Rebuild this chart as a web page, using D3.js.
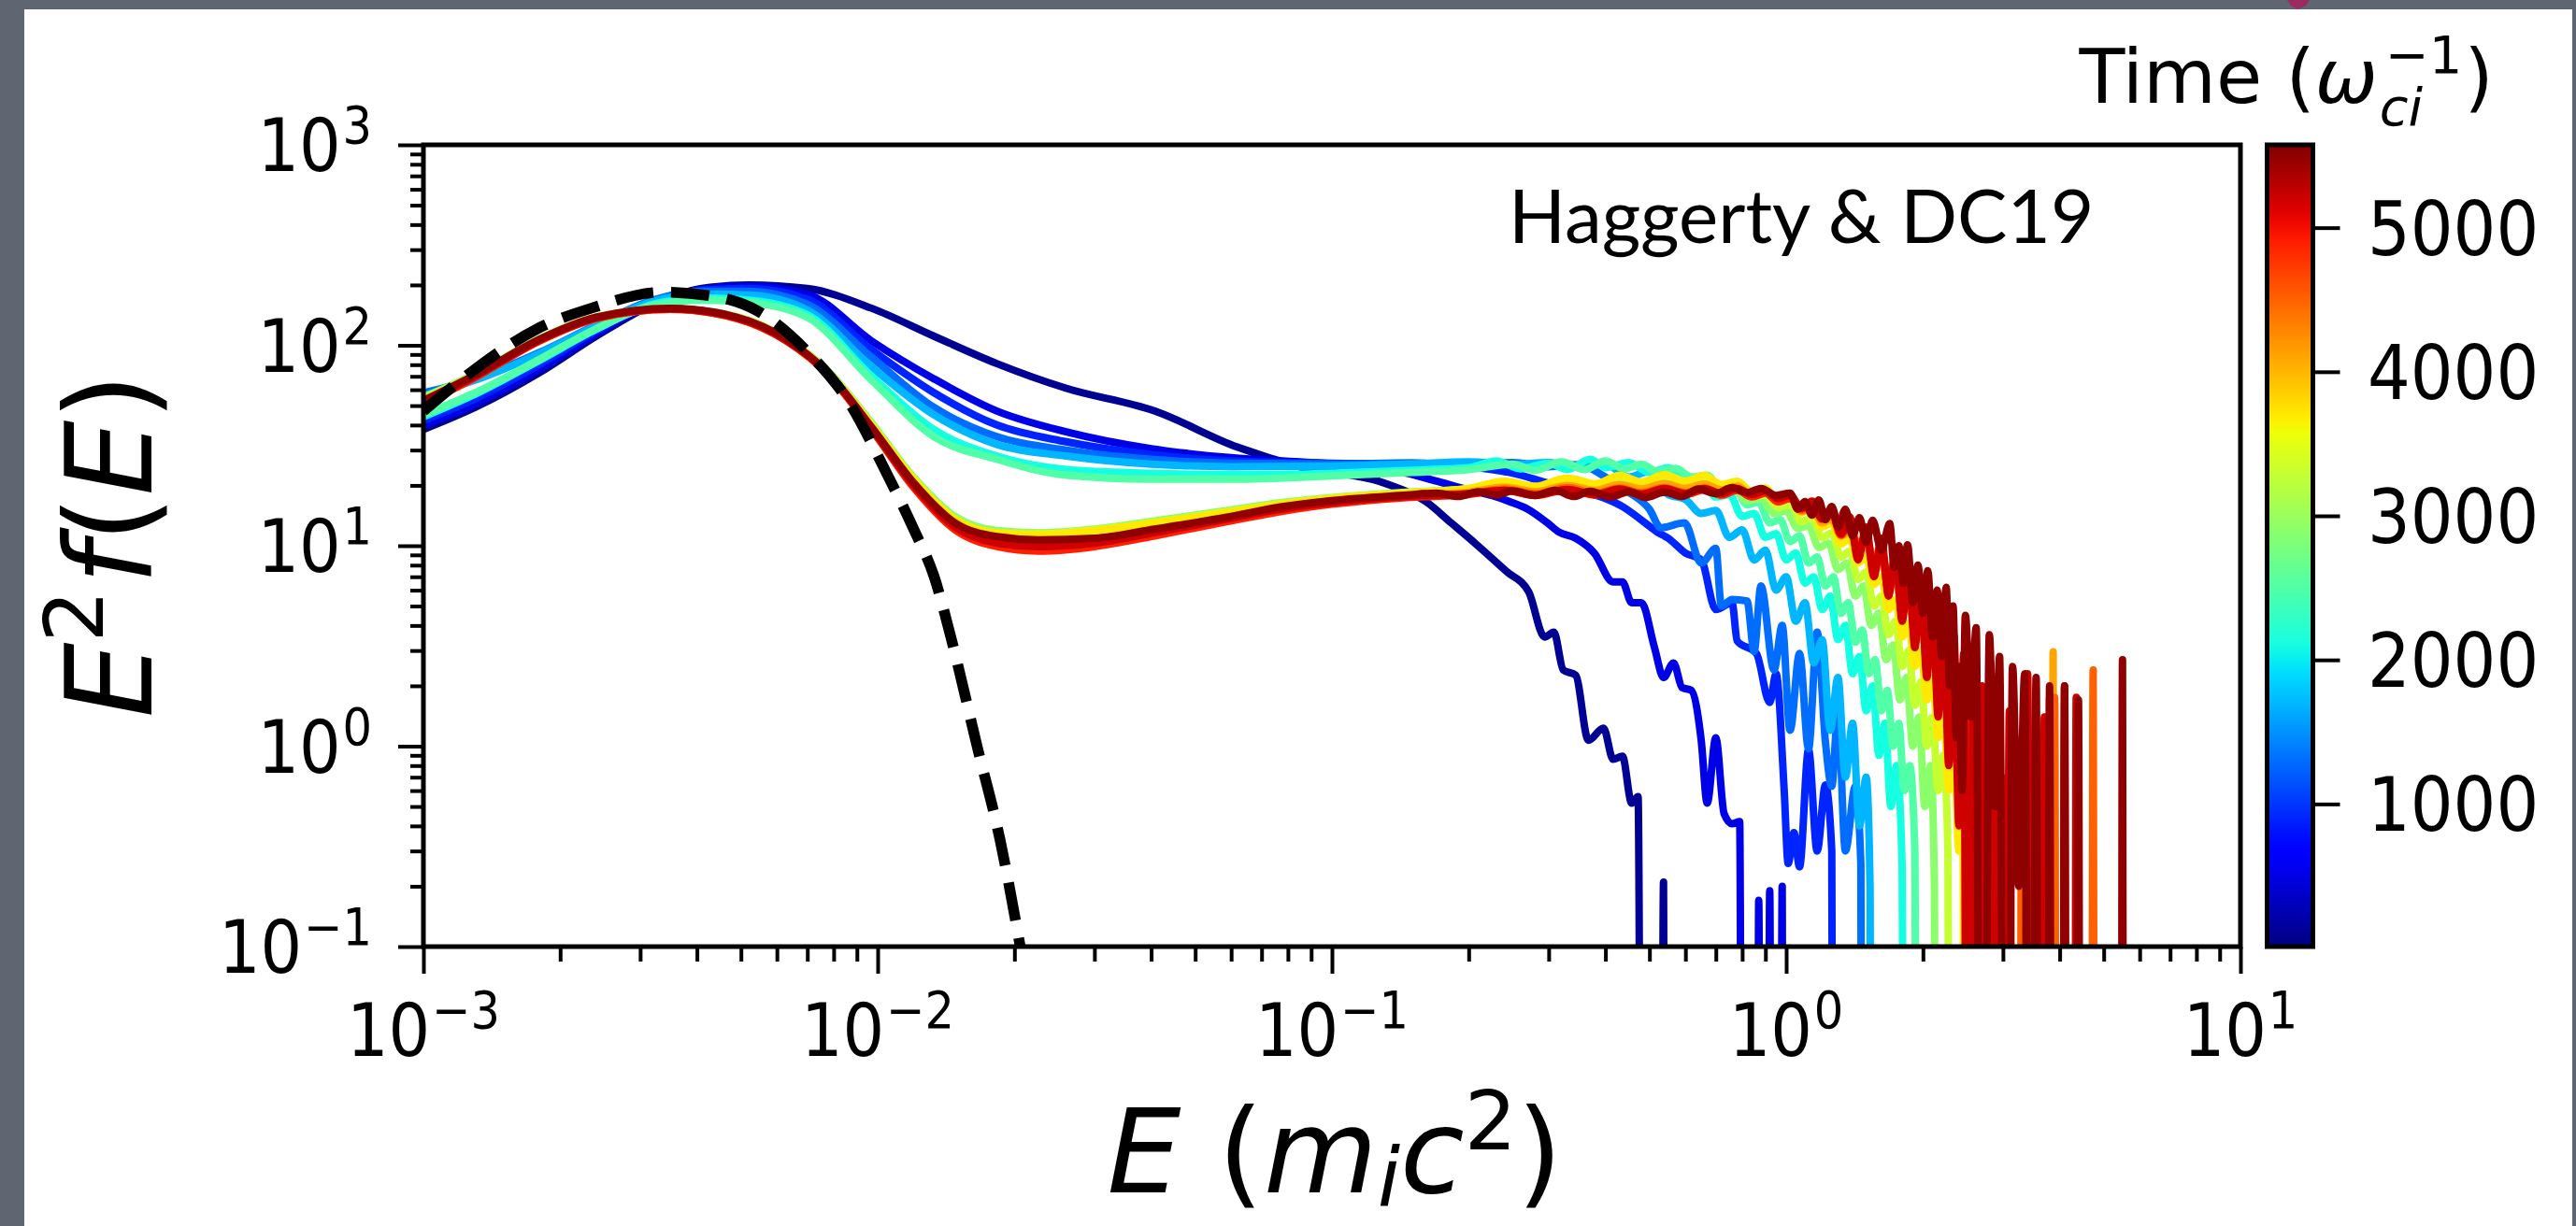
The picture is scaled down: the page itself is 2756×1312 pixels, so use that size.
<!DOCTYPE html>
<html>
<head>
<meta charset="utf-8">
<script src="https://cdn.jsdelivr.net/npm/d3@7"></script>
<style>
  html, body { margin: 0; padding: 0; background: #606572; }
  svg { display: block; }
</style>
</head>
<body>
<div id="chart"></div>
<script>
// -------------------------------------------------------------------
// E^2 f(E) spectra at successive times (Haggerty & DC19),
// coloured by time with a jet colormap, plus the initial Maxwellian
// -------------------------------------------------------------------

// Snapshot times (1/omega_ci), one per curve
const times = [100, 500, 900, 1300, 1700, 2100, 2500, 2900, 3300, 3700, 4100, 4500, 4900, 5200, 5500];

// Colorbar range and ticks
const cbarMin = 10, cbarMax = 5575;
const cbarTicks = [1000, 2000, 3000, 4000, 5000];

// Axis ticks (major) and their exponent labels
const xMajor = [1e-3, 1e-2, 1e-1, 1, 10];
const xExp = ["\u22123", "\u22122", "\u22121", "0", "1"];
const yMajor = [0.1, 1, 10, 100, 1000];
const yExp = ["\u22121", "0", "1", "2", "3"];

// Initial Maxwellian (black dashed), [E, E^2 f(E)]
const maxwellian = [[0.001,47],[0.00129,75],[0.00177,120],[0.00234,153],[0.00336,184],[0.00432,176],
  [0.00545,148],[0.00703,92],[0.00871,50.7],[0.0103,24.7],[0.012,12.1],[0.0133,7.06],[0.0145,3.48],
  [0.01655,1.0],[0.0186,0.34],[0.0206,0.1]];

// Spectra, [E, E^2 f(E)]; 0 = empty bin
const spec_t100 = [[0.001,38],[0.0013,49],[0.0018,73],[0.0024,111],[0.0032,160],[0.0041,192],[0.0052,200],
  [0.007,192],[0.0097,153],[0.0133,111],[0.0183,81],[0.026,61],[0.0407,47],[0.062,31],[0.0855,24.7],
  [0.13,20.6],[0.161,16.6],[0.183,13],[0.2075,10.2],[0.243,7.4],[0.271,5.9],[0.294,3.5],[0.308,3.7],
  [0.323,2.4],[0.344,2.26],[0.367,1.07],[0.396,1.23],[0.416,0.86],[0.436,0.89],[0.457,0.52],[0.472,0.56],
  [0.485,0],[0.527,0],[0.537,0.21],[0.547,0]];

const spec_t500 = [[0.001,40],[0.0013,51],[0.0018,76],[0.0024,114],[0.0032,163],[0.0041,190],[0.0052,197],
  [0.007,180],[0.0097,105],[0.0133,68],[0.0183,47],[0.026,37],[0.04,30.5],[0.06,27.5],[0.085,26.2],
  [0.11,25.2],[0.14,23.5],[0.17,21],[0.2,19],[0.225,17.8],[0.246,16.6],[0.27,15.2],[0.298,13],[0.316,11.7],
  [0.344,10.9],[0.378,9.2],[0.416,6.6],[0.436,6.6],[0.457,5.2],[0.48,5.2],[0.513,3.1],[0.537,2.2],
  [0.565,2.6],[0.59,1.96],[0.618,1.9],[0.65,1.07],[0.67,0.52],[0.70,1.1],[0.73,0.46],[0.76,0.41],
  [0.79,0.42],[0.805,0],[0.86,0],[0.87,0.17],[0.885,0],[0.905,0],[0.92,0.19],[0.935,0],[0.965,0],
  [0.98,0.2],[0.995,0]];

const spec_t900 = [[0.001,42],[0.0013,54],[0.0018,80],[0.0024,118],[0.0032,166],[0.0041,188],[0.0052,192],
  [0.007,170],[0.0097,95],[0.0133,58],[0.0183,40],[0.026,33],[0.04,28.5],[0.06,26.5],[0.1,25.8],
  [0.15,25.5],[0.2,24.8],[0.25,23],[0.3,20.5],[0.35,18.8],[0.4,17.2],[0.438,15.6],[0.489,13],[0.52,11.7],
  [0.55,10.9],[0.6,9.2],[0.65,8.5],[0.7,4.8],[0.76,5.2],[0.78,3.35],[0.86,2.9],[0.92,1.65],[0.95,2.3],
  [0.99,0.6],[1.01,0.26],[1.04,0.37],[1.07,0.25],[1.12,0.96],[1.17,0.3],[1.22,0.64],[1.26,0.3],[1.28,0]];

const spec_t1300 = [[0.001,58],[0.0013,68],[0.0018,92],[0.0024,126],[0.0032,168],[0.0041,186],[0.0052,186],
  [0.007,160],[0.0097,87],[0.0133,49],[0.0183,35],[0.026,30],[0.04,27],[0.06,25.8],[0.1,25.6],[0.15,25.9],
  [0.2,25.2],[0.25,26],[0.3,24.8],[0.35,25.4],[0.4,22],[0.45,18.5],[0.5,15.2],[0.53,12.3],[0.597,13],
  [0.65,8.2],[0.70,9.7],[0.72,5.0],[0.76,5.4],[0.82,5.3],[0.85,2.97],[0.88,6.3],[0.94,2.4],[0.98,4.0],
  [1.02,1.2],[1.07,2.9],[1.12,0.97],[1.17,3.7],[1.22,1.05],[1.26,0.63],[1.3,1.5],[1.35,0.3],[1.42,0.63],
  [1.46,0.26],[1.48,0]];

const spec_t1700 = [[0.001,56],[0.0013,67],[0.0018,91],[0.0024,125],[0.0032,166],[0.0041,180],[0.0052,178],
  [0.007,150],[0.0097,78],[0.0133,45],[0.0183,32],[0.026,28],[0.04,25.5],[0.06,24.8],[0.1,25],[0.15,25.6],
  [0.2,26.2],[0.25,25.4],[0.3,26],[0.35,24.6],[0.4,25.5],[0.45,22],[0.5,23.5],[0.55,18],[0.6,17],
  [0.65,14.5],[0.7,15],[0.75,11],[0.8,12],[0.85,8.5],[0.9,9.5],[0.95,6],[1.0,7],[1.05,4.2],[1.1,5.2],
  [1.15,2.6],[1.2,3.4],[1.25,1.2],[1.3,2.2],[1.35,0.7],[1.4,1.3],[1.45,0.4],[1.5,0.7],[1.53,0.2],[1.55,0]];

const spec_t2100 = [[0.001,44],[0.0013,57],[0.0018,84],[0.0024,120],[0.0032,160],[0.0041,172],[0.0052,168],
  [0.007,142],[0.0097,70],[0.0133,38],[0.0183,28],[0.026,24],[0.04,23],[0.06,22.6],[0.1,23],[0.15,23.8],
  [0.2,24.5],[0.23,26.5],[0.26,24.2],[0.3,25.8],[0.33,24],[0.37,27],[0.4,24.5],[0.45,26],[0.5,23.2],
  [0.55,24.5],[0.6,21],[0.65,21.8],[0.7,17.5],[0.75,18],[0.8,14],[0.85,14.5],[0.9,11],[0.95,11.5],
  [1.0,8.5],[1.05,9.2],[1.1,6.5],[1.15,7],[1.2,4.8],[1.25,5.6],[1.3,3.4],[1.35,4],[1.4,2.3],[1.45,2.8],
  [1.5,1.5],[1.55,2],[1.6,0.9],[1.65,1.3],[1.7,0.5],[1.75,0.8],[1.8,0.25],[1.85,0]];

const spec_t2500 = [[0.001,45],[0.0013,58],[0.0018,85],[0.0024,121],[0.0032,158],[0.0041,168],[0.0052,164],
  [0.007,138],[0.0097,67],[0.0133,35],[0.0183,27],[0.026,22.5],[0.04,21.5],[0.06,21.5],[0.1,22.3],
  [0.15,23.2],[0.2,24],[0.25,25.5],[0.28,23.8],[0.32,26.2],[0.36,24],[0.4,26.5],[0.44,24.2],[0.48,25.5],
  [0.52,23.5],[0.57,24.3],[0.62,22],[0.67,22.5],[0.72,19],[0.77,19.8],[0.82,16],[0.87,16.5],[0.92,13],
  [0.97,13.5],[1.02,10.5],[1.07,11.2],[1.12,8.2],[1.17,8.8],[1.22,6.3],[1.27,7],[1.32,4.6],[1.37,5.2],
  [1.42,3.3],[1.47,3.8],[1.52,2.3],[1.57,2.7],[1.62,1.5],[1.67,1.9],[1.72,1.0],[1.77,1.3],[1.82,0.6],
  [1.87,0.8],[1.92,0.3],[1.97,0]];

const spec_t2900 = [[0.001,55],[0.0013,72],[0.0018,108],[0.0024,138],[0.0035,152],[0.0049,139],[0.0063,108],
  [0.0078,74],[0.0097,41],[0.012,22],[0.0148,14],[0.0183,11.9],[0.0226,11.6],[0.03,12.1],[0.0407,13.3],
  [0.06,15.1],[0.077,16.4],[0.1,17.4],[0.146,18.5],[0.2,19.2],[0.24,20.4],[0.28,19.4],[0.33,21],[0.38,19.8],
  [0.43,21.3],[0.48,20],[0.53,21.5],[0.58,19.6],[0.64,20.8],[0.7,18.6],[0.76,19.4],[0.82,16.8],[0.88,17.2],
  [0.94,14.5],[1.0,14.9],[1.06,12.2],[1.12,12.6],[1.18,9.8],[1.24,10.3],[1.3,7.6],[1.36,8.2],[1.42,5.6],
  [1.48,6.3],[1.54,4],[1.6,4.6],[1.66,2.7],[1.72,3.2],[1.78,1.7],[1.84,2.2],[1.9,1.0],[1.96,1.4],
  [2.02,0.5],[2.08,0.8],[2.12,0.2],[2.15,0]];

const spec_t3300 = [[0.001,54],[0.0013,71],[0.0018,107],[0.0024,138],[0.0035,152],[0.0049,138],[0.0063,107],
  [0.0078,73],[0.0097,40],[0.012,21.5],[0.0148,13.6],[0.0183,11.6],[0.0226,11.4],[0.03,12],[0.0407,13.1],
  [0.06,14.9],[0.077,16.2],[0.1,17.3],[0.146,18.4],[0.2,19.3],[0.24,20.8],[0.28,19.5],[0.33,21.2],[0.38,20],
  [0.43,21.6],[0.48,20.3],[0.54,21.8],[0.6,20.2],[0.66,21.2],[0.72,19.2],[0.78,19.9],[0.84,17.5],[0.9,18],
  [0.96,15.5],[1.02,16],[1.08,13.2],[1.14,13.8],[1.2,11],[1.26,11.6],[1.32,8.8],[1.38,9.4],[1.44,6.8],
  [1.5,7.4],[1.56,5],[1.62,5.6],[1.68,3.6],[1.74,4.2],[1.8,2.5],[1.86,3],[1.92,1.6],[1.98,2.1],[2.04,1.0],
  [2.1,1.4],[2.16,0.6],[2.22,0.9],[2.27,0.3],[2.32,0]];

const spec_t3700 = [[0.001,53],[0.0013,71],[0.0018,107],[0.0024,138],[0.0035,152],[0.0049,138],[0.0063,107],
  [0.0078,73],[0.0097,40],[0.012,21.5],[0.0148,13.6],[0.0183,11.6],[0.0226,11.4],[0.03,11.9],[0.0407,13],
  [0.06,14.8],[0.077,16.1],[0.1,17.2],[0.146,18.3],[0.2,19.3],[0.24,21],[0.28,19.8],[0.33,21.8],[0.38,20.4],
  [0.43,22.4],[0.48,20.8],[0.54,22.6],[0.6,21],[0.66,22.4],[0.72,20.2],[0.78,21],[0.84,18.6],[0.9,19.4],
  [0.96,16.8],[1.02,17.5],[1.08,14.6],[1.14,15.3],[1.2,12.4],[1.26,13],[1.32,10.2],[1.38,10.9],[1.44,8.2],
  [1.5,8.8],[1.56,6.4],[1.62,7],[1.68,4.8],[1.74,5.4],[1.8,3.5],[1.86,4.1],[1.92,2.5],[1.98,3],[2.04,1.7],
  [2.1,2.2],[2.16,1.1],[2.22,1.5],[2.28,0.6],[2.34,1.0],[2.4,0.3],[2.45,0.5],[2.5,0]];

const spec_t4100 = [[0.001,52],[0.0013,70],[0.0018,106],[0.0024,137],[0.0035,152],[0.0049,137],[0.0063,106],
  [0.0078,72],[0.0097,39],[0.012,20.5],[0.0148,12.8],[0.0183,10.8],[0.0226,10.3],[0.03,10.8],[0.0407,12],
  [0.06,14],[0.077,15.4],[0.1,16.6],[0.146,17.8],[0.2,18.5],[0.24,19.6],[0.28,18.6],[0.33,20],[0.38,18.9],
  [0.43,20.2],[0.48,19.2],[0.54,20.4],[0.6,19.3],[0.66,20.3],[0.72,19],[0.78,19.8],[0.84,18],[0.9,18.6],
  [0.96,16.6],[1.02,17.2],[1.08,14.8],[1.14,15.4],[1.2,13],[1.26,13.6],[1.32,11.2],[1.38,11.8],[1.44,9.4],
  [1.5,10],[1.56,7.8],[1.62,8.3],[1.68,6.2],[1.74,6.8],[1.8,4.8],[1.86,5.4],[1.92,3.6],[1.98,4.2],[2.04,2.6],
  [2.1,3.1],[2.16,1.8],[2.22,2.3],[2.28,1.2],[2.34,1.6],[2.4,0.7],[2.46,1.1],[2.52,0.4],[2.58,0.7],[2.62,0],
  [2.95,0],[3.0,0.6],[3.05,0],[3.55,0],[3.6,1.2],[3.65,0],[3.82,0],[3.87,2.96],[3.92,0]];

const spec_t4500 = [[0.001,51],[0.0013,69],[0.0018,105],[0.0024,136],[0.0035,151],[0.0049,136],[0.0063,105],
  [0.0078,71],[0.0097,38],[0.012,19.8],[0.0148,12.2],[0.0183,10.1],[0.0226,9.6],[0.03,10.1],[0.0407,11.4],
  [0.06,13.5],[0.077,15],[0.1,16.3],[0.146,17.6],[0.2,18.2],[0.24,19.2],[0.28,18.2],[0.33,19.5],[0.38,18.3],
  [0.43,19.4],[0.48,18.4],[0.54,19.5],[0.6,18.4],[0.66,19.4],[0.72,18.2],[0.78,19.2],[0.84,17.6],[0.9,18.4],
  [0.96,16.5],[1.02,17.2],[1.08,15],[1.14,15.8],[1.2,13.5],[1.26,14.2],[1.32,11.8],[1.38,12.5],[1.44,10.2],
  [1.5,10.9],[1.56,8.6],[1.62,9.3],[1.68,7.1],[1.74,7.8],[1.8,5.8],[1.86,6.4],[1.92,4.6],[1.98,5.2],[2.04,3.5],
  [2.1,4.1],[2.16,2.6],[2.22,3.1],[2.28,1.8],[2.34,2.4],[2.4,1.2],[2.46,1.7],[2.52,0.7],[2.58,1.2],[2.64,0.4],
  [2.7,0.9],[2.76,0],[2.82,0.7],[2.88,0],[3.25,0],[3.3,1.1],[3.35,0],[3.75,0],[3.8,1.75],[3.85,1.2],
  [3.9,1.75],[3.95,0],[4.68,0],[4.74,2.4],[4.8,0]];

const spec_t4900 = [[0.001,51],[0.0013,69],[0.0018,105],[0.0024,136],[0.0035,151],[0.0049,136],[0.0063,105],
  [0.0078,71],[0.0097,38],[0.012,19.5],[0.0148,12],[0.0183,9.9],[0.0226,9.4],[0.03,9.9],[0.0407,11.2],
  [0.06,13.3],[0.077,14.8],[0.1,16.1],[0.146,17.4],[0.2,18],[0.24,18.9],[0.28,17.8],[0.33,19],[0.38,17.9],
  [0.43,19],[0.48,18],[0.54,19.1],[0.6,18],[0.66,19],[0.72,17.9],[0.78,18.9],[0.84,17.5],[0.9,18.3],
  [0.96,16.6],[1.02,17.3],[1.08,15.3],[1.14,16],[1.2,13.9],[1.26,14.6],[1.32,11.3],[1.38,13],[1.44,9.2],
  [1.5,11.5],[1.56,7.4],[1.62,9.9],[1.68,5.9],[1.74,8.4],[1.8,4.5],[1.86,7],[1.92,3.4],[1.98,5.8],[2.04,2.5],
  [2.1,4.6],[2.16,1.7],[2.22,3.6],[2.28,1.1],[2.34,2.8],[2.4,0.6],[2.46,2.1],[2.52,0.3],[2.58,1.6],[2.64,0],
  [2.7,1.2],[2.76,0],[2.82,0.9],[2.88,0],[2.94,0.8],[3.0,0],[3.06,0.7],[3.12,0],[3.45,0],[3.5,1.0],
  [3.55,0],[4.05,0],[4.1,1.2],[4.15,0]];

const spec_t5200 = [[0.001,52],[0.0013,70],[0.0018,106],[0.0024,137],[0.0035,152],[0.0049,137],[0.0063,106],
  [0.0078,72],[0.0097,38.5],[0.012,20],[0.0148,12.4],[0.0183,10.3],[0.0226,9.9],[0.03,10.3],[0.0407,11.6],
  [0.06,13.7],[0.077,15.2],[0.1,16.4],[0.146,17.6],[0.2,18.2],[0.24,18.9],[0.28,17.9],[0.33,19.1],[0.38,18],
  [0.43,19.2],[0.48,18.1],[0.54,19.3],[0.6,18.2],[0.66,19.3],[0.72,18.2],[0.78,19.3],[0.84,18],[0.9,18.8],
  [0.96,17.2],[1.02,17.9],[1.08,15.4],[1.14,16.7],[1.2,13.6],[1.26,15.4],[1.32,11.5],[1.38,13.9],[1.44,8.5],
  [1.5,12.4],[1.56,7],[1.62,10.9],[1.68,5.6],[1.74,9.4],[1.8,4.2],[1.86,7.9],[1.92,3.1],[1.98,6.6],
  [2.04,2.2],[2.1,5.4],[2.16,1.4],[2.22,4.3],[2.28,0.8],[2.34,3.6],[2.4,0.4],[2.46,2.9],[2.52,0],
  [2.58,2.4],[2.64,0],[2.7,2.0],[2.76,0],[2.82,2.6],[2.88,0],[2.95,2.0],[3.02,0],[3.1,1.5],[3.18,0],
  [3.3,0],[3.4,2.3],[3.48,0],[3.65,0],[3.7,1.4],[3.75,0],[4.05,0],[4.1,2.0],[4.15,0],[4.3,0],[4.35,1.75],
  [4.4,0]];

const spec_t5500 = [[0.001,53],[0.0013,71],[0.0018,107],[0.0024,138],[0.0035,153],[0.0049,138],[0.0063,107],
  [0.0078,72],[0.0097,39],[0.012,20.6],[0.0148,13],[0.0183,11.1],[0.0226,10.7],[0.03,10.9],[0.0407,12.1],
  [0.06,14],[0.077,15.6],[0.1,16.8],[0.146,17.9],[0.17,18.3],[0.19,17.6],[0.21,18.6],[0.23,17.9],[0.25,18.8],
  [0.28,17.8],[0.31,18.9],[0.34,17.6],[0.37,18.7],[0.41,17.5],[0.45,18.6],[0.49,17.4],[0.54,18.5],
  [0.59,17.6],[0.64,19.2],[0.7,18.2],[0.76,19.5],[0.82,18.4],[0.88,19.3],[0.95,17.8],[1.02,18.3],
  [1.06,15.2],[1.1,16.6],[1.14,14.2],[1.18,16.9],[1.22,13.5],[1.26,15.7],[1.3,12.4],[1.35,15.2],[1.4,11.2],
  [1.45,13.8],[1.5,10.4],[1.55,13.4],[1.62,9.5],[1.69,12.9],[1.73,7.8],[1.77,10],[1.81,6.5],[1.85,10.1],
  [1.9,5.2],[1.95,8],[2.0,4.6],[2.05,7.5],[2.1,3.5],[2.15,6],[2.2,2.8],[2.25,6.2],[2.29,2.0],[2.33,5.0],
  [2.37,1.1],[2.4,2.5],[2.44,0.6],[2.48,4.5],[2.55,1.4],[2.62,3.9],[2.7,0],[2.8,3.6],[2.88,0.5],[2.95,2.8],
  [3.05,0],[3.15,2.5],[3.25,0.2],[3.35,2.3],[3.45,0],[3.55,2.2],[3.62,0],[3.75,0],[3.8,2.0],[3.86,0],
  [4.05,0],[4.1,2.0],[4.16,0],[4.34,0],[4.4,1.7],[4.46,0],[5.44,0],[5.5,2.7],[5.56,0]];

const spectra = [spec_t100, spec_t500, spec_t900, spec_t1300, spec_t1700, spec_t2100, spec_t2500,
  spec_t2900, spec_t3300, spec_t3700, spec_t4100, spec_t4500, spec_t4900, spec_t5200, spec_t5500];

// -------------------------------------------------------------------
// Layout
const W = 2756, H = 1312;
const plot = { left: 453, right: 2397, top: 155, bottom: 1013 };
const FONT = "DejaVu Sans";
const TICK_SIZE = 78, SUP_SIZE = 55, SX = 0.9;

const svg = d3.select("#chart")
    .append("svg")
    .attr("width", W)
    .attr("height", H);

// Slide background and white panel
svg.append("rect").attr("width", W).attr("height", H).attr("fill", "#606572");
svg.append("rect").attr("x", 26).attr("y", 10).attr("width", 2726).attr("height", H - 10).attr("fill", "#ffffff");
svg.append("path")
    .attr("d", "M2447,0 L2471,0 L2467,6 L2458,10 L2451,6 Z")
    .attr("fill", "#9b2a60");

// Scales
const x = d3.scaleLog().domain([1e-3, 10]).range([plot.left, plot.right]);
const y = d3.scaleLog().domain([0.1, 1000]).range([plot.bottom, plot.top]);
const cScale = d3.scaleLinear().domain([cbarMin, cbarMax]).range([plot.bottom, plot.top]);

// matplotlib "jet"
const jetR = d3.scaleLinear().domain([0, 0.35, 0.66, 0.89, 1]).range([0, 0, 1, 1, 0.5]).clamp(true);
const jetG = d3.scaleLinear().domain([0, 0.125, 0.375, 0.64, 0.91, 1]).range([0, 0, 1, 1, 0, 0]).clamp(true);
const jetB = d3.scaleLinear().domain([0, 0.11, 0.34, 0.65, 1]).range([0.5, 1, 1, 0, 0]).clamp(true);
const jet = f => d3.rgb(jetR(f) * 255, jetG(f) * 255, jetB(f) * 255).formatHex();
const tNorm = d3.scaleLinear().domain([cbarMin, cbarMax]).range([0, 1]);

// Clip for the curves
svg.append("clipPath").attr("id", "plot-clip")
    .append("rect")
    .attr("x", plot.left).attr("y", plot.top)
    .attr("width", plot.right - plot.left).attr("height", plot.bottom - plot.top);

// Empty bins fall far below the axis, like log clipping in matplotlib
const line = d3.line()
    .x(d => x(d[0]))
    .y(d => d[1] > 0 ? y(d[1]) : y(1e-6))
    .curve(d3.curveMonotoneX);

const curves = svg.append("g").attr("clip-path", "url(#plot-clip)");

curves.selectAll("path.spec")
    .data(spectra)
    .join("path")
    .attr("class", "spec")
    .attr("d", line)
    .attr("fill", "none")
    .attr("stroke", (d, i) => jet(tNorm(times[i])))
    .attr("stroke-width", 8)
    .attr("stroke-linejoin", "round");

curves.append("path")
    .datum(maxwellian)
    .attr("d", line)
    .attr("fill", "none")
    .attr("stroke", "#000")
    .attr("stroke-width", 11.5)
    .attr("stroke-dasharray", "41 19");

// -------------------------------------------------------------------
// Math-like text: pieces laid out one after another
function mathText(parent, transform, parts, anchor) {
    const g = parent.append("g").attr("transform", transform);
    const t = g.append("text").attr("font-family", FONT).attr("fill", "#000");
    let cursor = 0, lastStart = 0;
    parts.forEach(p => {
        const start = p.back ? lastStart : cursor;
        const span = t.append("tspan")
            .attr("x", start + (p.dx || 0))
            .attr("y", p.shift || 0)
            .attr("font-size", p.size)
            .attr("font-style", p.it ? "italic" : "normal")
            .text(p.t);
        const w = span.node().getComputedTextLength() + (p.dx || 0);
        cursor = Math.max(cursor, start + w);
        lastStart = start;
    });
    const off = anchor === "end" ? cursor : anchor === "middle" ? cursor / 2 : 0;
    t.attr("transform", `translate(${-off},0)`);
    return g;
}

// Axes: minor then major ticks
const isMajor = v => Math.abs(Math.log10(v) - Math.round(Math.log10(v))) < 1e-9;
const xMinor = x.ticks().filter(v => !isMajor(v));
const yMinor = y.ticks().filter(v => !isMajor(v));

function styleAxis(g) {
    g.select(".domain").remove();
    g.selectAll(".tick line").attr("stroke", "#000").attr("stroke-width", 4);
}

svg.append("g").attr("transform", `translate(0,${plot.bottom})`)
    .call(d3.axisBottom(x).tickValues(xMinor).tickSize(16).tickFormat(""))
    .call(styleAxis);
svg.append("g").attr("transform", `translate(0,${plot.bottom})`)
    .call(d3.axisBottom(x).tickValues(xMajor).tickSize(29).tickFormat(""))
    .call(styleAxis);
svg.append("g").attr("transform", `translate(${plot.left},0)`)
    .call(d3.axisLeft(y).tickValues(yMinor).tickSize(14).tickFormat(""))
    .call(styleAxis);
svg.append("g").attr("transform", `translate(${plot.left},0)`)
    .call(d3.axisLeft(y).tickValues(yMajor).tickSize(27).tickFormat(""))
    .call(styleAxis);

// Frame
svg.append("rect")
    .attr("x", plot.left).attr("y", plot.top)
    .attr("width", plot.right - plot.left).attr("height", plot.bottom - plot.top)
    .attr("fill", "none").attr("stroke", "#000").attr("stroke-width", 5);

// Tick labels
xMajor.forEach((v, i) => {
    mathText(svg, `translate(${x(v)},${plot.bottom + 117}) scale(${SX},1)`,
        [{ t: "10", size: TICK_SIZE }, { t: xExp[i], size: SUP_SIZE, shift: -30, dx: 2 }], "middle");
});
yMajor.forEach((v, i) => {
    mathText(svg, `translate(${plot.left - 55},${y(v) + 28}) scale(${SX},1)`,
        [{ t: "10", size: TICK_SIZE }, { t: yExp[i], size: SUP_SIZE, shift: -30, dx: 2 }], "end");
});

// Axis titles
mathText(svg, `translate(1428,1276)`, [
    { t: "E", size: 125, it: true },
    { t: " (", size: 125 },
    { t: "m", size: 125, it: true },
    { t: "i", size: 88, it: true, shift: 14 },
    { t: "c", size: 125, it: true },
    { t: "2", size: 88, shift: -46 },
    { t: ")", size: 125 }
], "middle");

mathText(svg, `translate(162,584) rotate(-90)`, [
    { t: "E", size: 128, it: true },
    { t: "2", size: 88, shift: -52 },
    { t: "f", size: 128, it: true, dx: 6 },
    { t: "(", size: 128 },
    { t: "E", size: 128, it: true },
    { t: ")", size: 128 }
], "middle");

// Annotation
svg.append("text")
    .attr("x", 1614).attr("y", 260)
    .attr("font-family", "Lato, 'Open Sans', sans-serif")
    .attr("font-size", 80)
    .attr("fill", "#000")
    .text("Haggerty & DC19");

// -------------------------------------------------------------------
// Colorbar
const cbX = 2425.5, cbW = 49;
const grad = svg.append("defs").append("linearGradient")
    .attr("id", "jet-grad")
    .attr("x1", 0).attr("y1", 1).attr("x2", 0).attr("y2", 0);
grad.selectAll("stop")
    .data(d3.range(0, 1.0001, 0.02))
    .join("stop")
    .attr("offset", d => d)
    .attr("stop-color", d => jet(d));

svg.append("rect")
    .attr("x", cbX).attr("y", plot.top)
    .attr("width", cbW).attr("height", plot.bottom - plot.top)
    .attr("fill", "url(#jet-grad)")
    .attr("stroke", "#000").attr("stroke-width", 5);

svg.append("g").attr("transform", `translate(${cbX + cbW + 2},0)`)
    .call(d3.axisRight(cScale).tickValues(cbarTicks).tickSize(27).tickFormat(""))
    .call(styleAxis);

cbarTicks.forEach(v => {
    mathText(svg, `translate(2533,${cScale(v) + 29}) scale(${SX},1)`,
        [{ t: String(v), size: 80 }], "start");
});

mathText(svg, `translate(2446,110)`, [
    { t: "Time (", size: 80 },
    { t: "\u03c9", size: 80, it: true },
    { t: "ci", size: 56, it: true, shift: 24, dx: 2 },
    { t: "\u22121", size: 56, shift: -32, back: true, dx: 8 },
    { t: ")", size: 80, dx: 2 }
], "middle");
</script>
</body>
</html>
